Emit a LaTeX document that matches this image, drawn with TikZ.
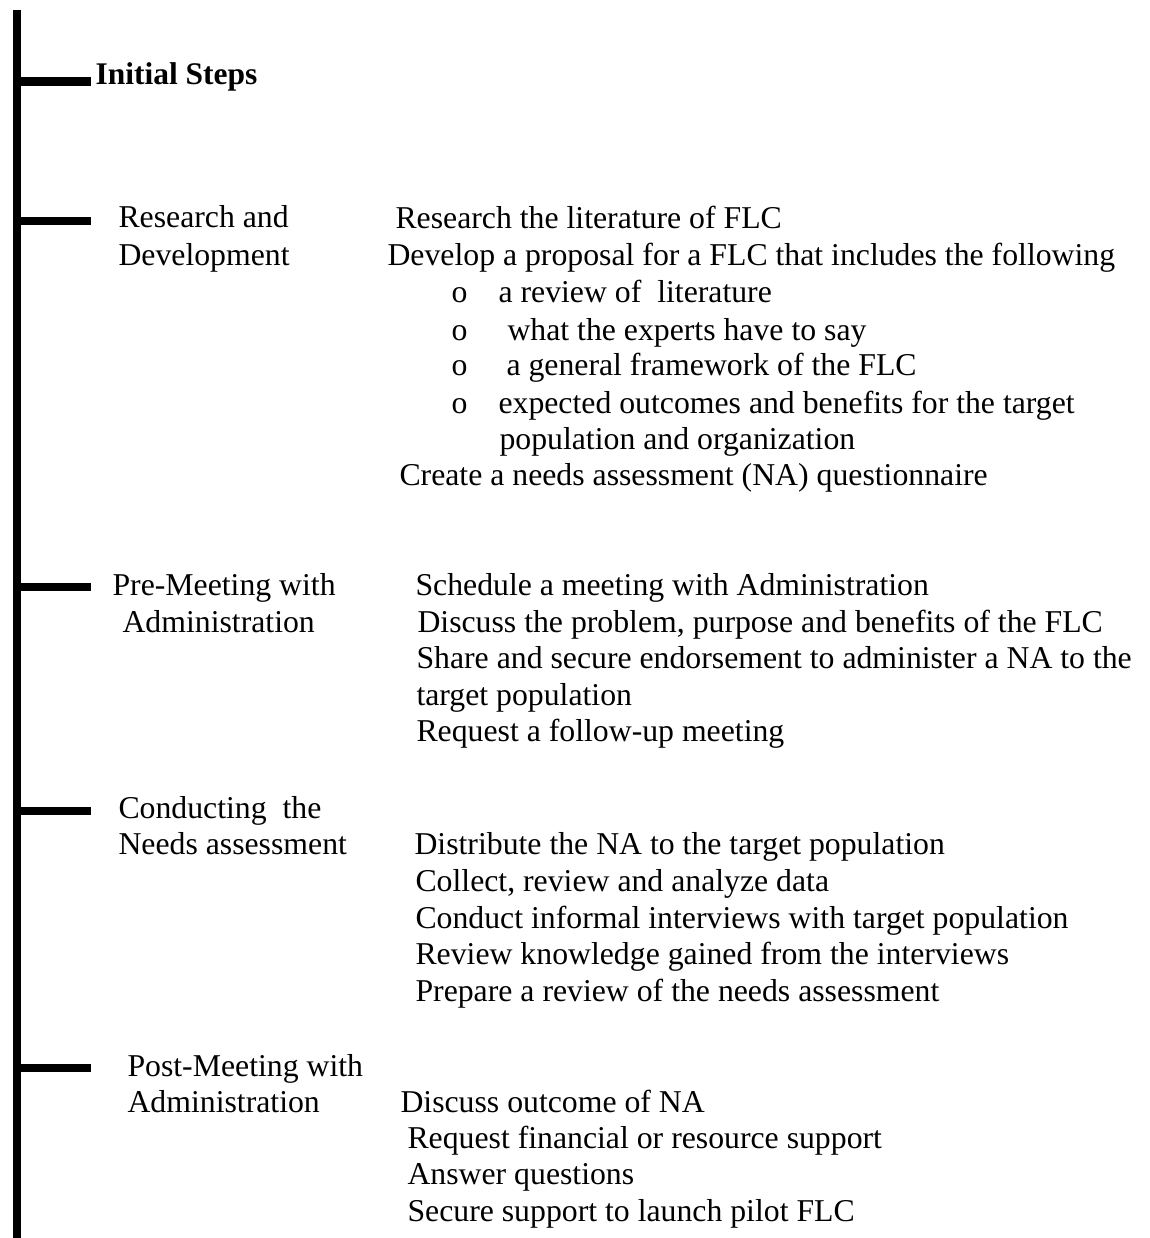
\documentclass[tikz,border=0pt]{standalone}
\usepackage{fontspec}
\setmainfont{Liberation Serif}
\usetikzlibrary{positioning}

\tikzset{
  spine/.style={black,line width=3pt},
  tick/.style={black,line width=3.2pt},
  head/.style={font=\fontsize{12}{14}\selectfont\bfseries,text=black,anchor=base west,inner sep=0pt},
  phase/.style={font=\fontsize{12.1}{14}\selectfont,text=black,anchor=base west,inner sep=0pt},
  task/.style={font=\fontsize{12.1}{14}\selectfont,text=black,anchor=base west,inner sep=0pt},
}

\begin{document}
\begin{tikzpicture}[x=0.381pt,y=-0.381pt]
\useasboundingbox (0,0) rectangle (1149,1238);

% timeline
\coordinate (top) at (17,10);
\coordinate (bottom) at (17,1238);
\draw[spine] (top) -- (bottom);

\coordinate (s0) at (17,81.5);
\coordinate (e0) at (91,81.5);
\draw[tick] (s0) -- (e0);
\node[head] (init) at (95,85) {Initial Steps};

% research and development
\coordinate (s1) at (17,221);
\coordinate (e1) at (91,221);
\draw[tick] (s1) -- (e1);
\node[phase] (rd1) at (118,228) {Research and};
\node[phase] (rd2) at (118,266) {Development};
\node[task] (rt1) at (395,229) {Research the literature of FLC};
\node[task] (rt2) at (387,266) {Develop a proposal for a FLC that includes the following};
\node[task] (rb1) at (451,303) {o};
\node[task] (rl1) at (498,303) {a review of\ \ literature};
\node[task] (rb2) at (451,340) {o};
\node[task] (rl2) at (507,340) {what the experts have to say};
\node[task] (rb3) at (451,376) {o};
\node[task] (rl3) at (506,376) {a general framework of the FLC};
\node[task] (rb4) at (451,413) {o};
\node[task] (rl4) at (498,413) {expected outcomes and benefits for the target};
\node[task] (rl5) at (499,449) {population and organization};
\node[task] (rt3) at (399,485) {Create a needs assessment (NA) questionnaire};

% pre-meeting
\coordinate (s2) at (17,587);
\coordinate (e2) at (91,587);
\draw[tick] (s2) -- (e2);
\node[phase] (pm1) at (112,595) {Pre-Meeting with};
\node[phase] (pm2) at (122,632) {Administration};
\node[task] (pt1) at (415,595) {Schedule a meeting with Administration};
\node[task] (pt2) at (417,632) {Discuss the problem, purpose and benefits of the FLC};
\node[task] (pt3) at (416,668) {Share and secure endorsement to administer a NA to the};
\node[task] (pt4) at (416,705) {target population};
\node[task] (pt5) at (416,741) {Request a follow-up meeting};

% needs assessment
\coordinate (s3) at (17,811);
\coordinate (e3) at (91,811);
\draw[tick] (s3) -- (e3);
\node[phase] (na1) at (118,818) {Conducting\ \ the};
\node[phase] (na2) at (118,854) {Needs assessment};
\node[task] (nt1) at (414,854) {Distribute the NA to the target population};
\node[task] (nt2) at (415,891) {Collect, review and analyze data};
\node[task] (nt3) at (415,928) {Conduct informal interviews with target population};
\node[task] (nt4) at (415,964) {Review knowledge gained from the interviews};
\node[task] (nt5) at (415,1001) {Prepare a review of the needs assessment};

% post-meeting
\coordinate (s4) at (17,1068);
\coordinate (e4) at (91,1068);
\draw[tick] (s4) -- (e4);
\node[phase] (po1) at (127,1076) {Post-Meeting with};
\node[phase] (po2) at (127,1112) {Administration};
\node[task] (ot1) at (400,1112) {Discuss outcome of NA};
\node[task] (ot2) at (407,1148) {Request financial or resource support};
\node[task] (ot3) at (407,1184) {Answer questions};
\node[task] (ot4) at (407,1221) {Secure support to launch pilot FLC};

\end{tikzpicture}
\end{document}
